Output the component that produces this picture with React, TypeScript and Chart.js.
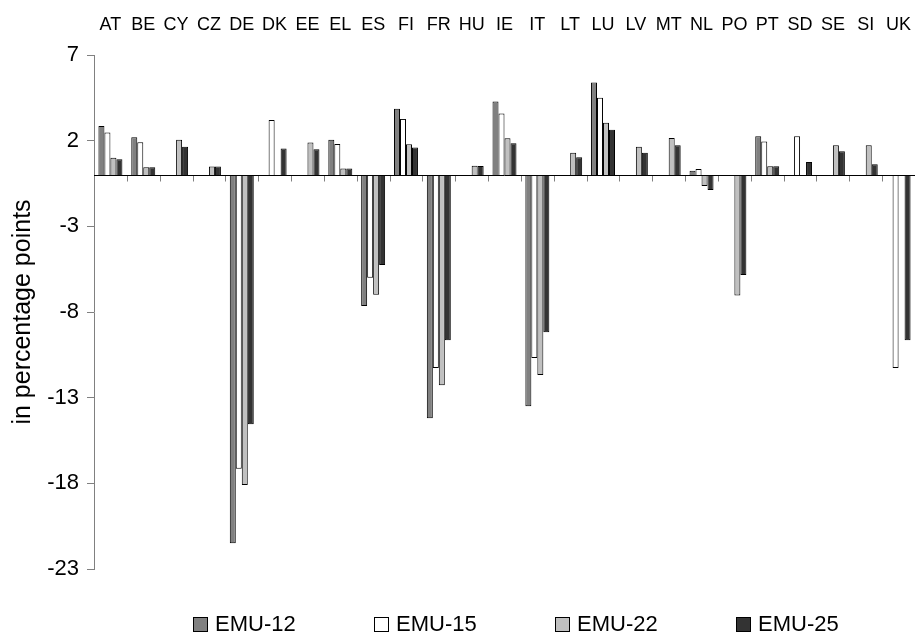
import React, { useEffect, useRef } from "react";
import { Chart, registerables } from "chart.js";

Chart.register(...registerables);

const categories = [
  "AT", "BE", "CY", "CZ", "DE", "DK", "EE", "EL", "ES", "FI", "FR", "HU", "IE",
  "IT", "LT", "LU", "LV", "MT", "NL", "PO", "PT", "SD", "SE", "SI", "UK",
];

const emu12 = [
  2.85, 2.2, null, null, -21.5, null, null, 2.05, -7.65, 3.87, -14.2, null, 4.28,
  -13.5, null, 5.4, null, null, 0.25, null, 2.26, null, null, null, null,
];
const emu15 = [
  2.47, 1.91, null, null, -17.15, 3.2, null, 1.8, -6.0, 3.27, -11.27, null, 3.58,
  -10.68, null, 4.5, null, null, 0.35, null, 1.95, 2.26, null, null, -11.27,
];
const emu22 = [
  1.0, 0.45, 2.06, 0.49, -18.1, null, 1.89, 0.37, -7.0, 1.79, -12.28, 0.54, 2.14,
  -11.68, 1.3, 3.05, 1.65, 2.16, -0.64, -7.04, 0.5, null, 1.73, 1.73, null,
];
const emu25 = [
  0.92, 0.45, 1.65, 0.49, -14.55, 1.54, 1.5, 0.37, -5.25, 1.6, -9.65, 0.52, 1.85,
  -9.18, 1.03, 2.63, 1.3, 1.73, -0.88, -5.84, 0.5, 0.76, 1.38, 0.62, -9.65,
];

const seriesNames = ["EMU-12", "EMU-15", "EMU-22", "EMU-25"];
const seriesColors = ["#808080", "#ffffff", "#c0c0c0", "#333333"];
const yTicks = [7, 2, -3, -8, -13, -18, -23];
const yTitle = "in percentage points";

const FONT = "'Liberation Sans', Arial, sans-serif";

export default function App() {
  const ref = useRef<HTMLCanvasElement>(null);

  useEffect(() => {
    if (!ref.current) return;

    const zeroAxisPlugin = {
      id: "zeroAxis",
      afterDatasetsDraw(chart: any) {
        const ctx = chart.ctx;
        const xs = chart.scales.x;
        const ys = chart.scales.y;
        const area = chart.chartArea;
        const y0 = Math.round(ys.getPixelForValue(0)) + 0.5;
        const n = chart.data.labels.length;
        const step = n > 1 ? xs.getPixelForValue(1) - xs.getPixelForValue(0) : area.right - area.left;
        ctx.save();
        ctx.lineWidth = 1;
        ctx.strokeStyle = "#808080";
        ctx.beginPath();
        for (let i = 0; i <= n; i++) {
          const px = Math.round(xs.getPixelForValue(0) - step / 2 + i * step) + 0.5;
          ctx.moveTo(px, y0);
          ctx.lineTo(px, y0 + 6);
        }
        ctx.stroke();
        ctx.strokeStyle = "#000";
        ctx.beginPath();
        ctx.moveTo(area.left, y0);
        ctx.lineTo(area.right, y0);
        ctx.stroke();
        ctx.restore();
      },
    };

    const legendPlugin = {
      id: "spacedLegend",
      afterDraw(chart: any) {
        const ctx = chart.ctx;
        ctx.save();
        ctx.font = `22px ${FONT}`;
        ctx.textBaseline = "middle";
        ctx.textAlign = "left";
        const y = 625;
        chart.data.datasets.forEach((ds: any, i: number) => {
          const x = 193 + i * 181;
          ctx.fillStyle = ds.backgroundColor;
          ctx.fillRect(x, y - 8, 15, 15);
          ctx.strokeStyle = "#000";
          ctx.lineWidth = 1;
          ctx.strokeRect(x + 0.5, y - 7.5, 14, 14);
          ctx.fillStyle = "#000";
          ctx.fillText(ds.label, x + 22, y);
        });
        ctx.restore();
      },
    };

    const seriesData = [emu12, emu15, emu22, emu25];
    const chart = new Chart(ref.current, {
      type: "bar",
      data: {
        labels: categories,
        datasets: seriesData.map((d, i) => ({
          label: seriesNames[i],
          data: d,
          backgroundColor: seriesColors[i],
          borderColor: "#000000",
          borderWidth: 1,
        })),
      },
      options: {
        responsive: false,
        animation: false,
        layout: { padding: { left: 0, right: 0, top: 0, bottom: 65 } },
        plugins: {
          legend: { display: false },
          tooltip: { enabled: false },
        },
        datasets: {
          bar: { categoryPercentage: 0.73, barPercentage: 1 },
        },
        scales: {
          x: {
            type: "category",
            position: "top",
            offset: true,
            grid: { display: false, drawTicks: false },
            border: { display: false },
            ticks: {
              font: { family: FONT, size: 18 },
              color: "#000",
              padding: 19,
              maxRotation: 0,
              autoSkip: false,
            },
            afterFit: (s: any) => {
              s.height = 55;
              s.paddingRight = 0;
              s.paddingLeft = 0;
            },
          },
          y: {
            position: "left",
            min: -23,
            max: 7,
            afterBuildTicks: (s: any) => {
              s.ticks = yTicks.map((v) => ({ value: v }));
            },
            grid: {
              drawOnChartArea: false,
              drawTicks: true,
              tickLength: 7,
              color: "#808080",
            },
            border: { display: true, color: "#808080" },
            ticks: {
              font: { family: FONT, size: 22 },
              color: "#000",
              padding: 8,
            },
            title: {
              display: true,
              text: yTitle,
              font: { family: FONT, size: 25 },
              color: "#000",
              padding: { top: 8, bottom: 0 },
            },
            afterFit: (s: any) => {
              s.width = 94;
            },
          },
        },
      } as any,
      plugins: [zeroAxisPlugin, legendPlugin],
    });
    return () => chart.destroy();
  }, []);

  return (
    <div style={{ position: "absolute", left: 0, top: 0, width: 915, height: 634, background: "#fff" }}>
      <canvas ref={ref} width={915} height={634} style={{ display: "block" }} />
    </div>
  );
}
